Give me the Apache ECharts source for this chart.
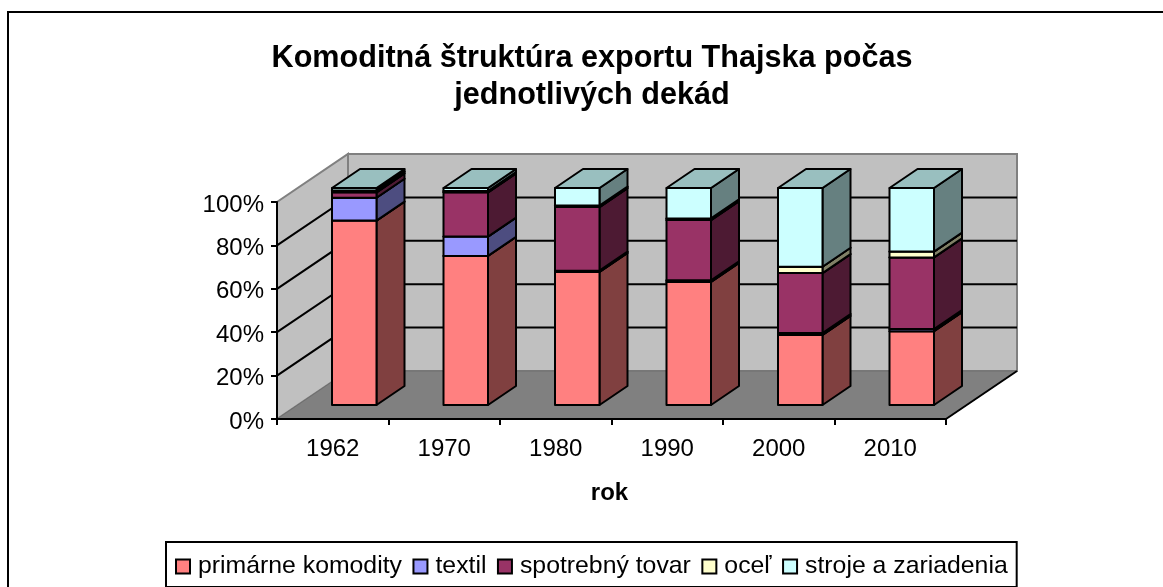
<!DOCTYPE html>
<html><head><meta charset="utf-8">
<style>html,body{margin:0;padding:0;background:#fff}#c{width:1163px;height:587px}</style>
<script src="https://cdn.jsdelivr.net/npm/echarts@6/dist/echarts.min.js"></script>
</head><body><div id="c"></div>
<script>
const years = ['1962','1970','1980','1990','2000','2010'];
const primarne = [85, 68.7, 61.3, 56.7, 32.3, 34];
const textil = [10.5, 8.9, 0.6, 0.8, 0.9, 1];
const spotrebny = [2.5, 20.4, 29.3, 27.7, 27.6, 33];
const ocel = [0.9, 0.6, 0.7, 0.8, 2.9, 2.7];
const stroje = [1.1, 1.4, 8.1, 14, 36.3, 29.3];
const wallTicks = [20, 40, 60, 80];

const names = ['primárne komodity','textil','spotrebný tovar','oceľ','stroje a zariadenia'];
const values = [primarne, textil, spotrebny, ocel, stroje];
const front = ['#FF8080','#9999FF','#993366','#FFFFCC','#CCFFFF'];
const side = ['#804040','#4D4D80','#4D1A33','#808066','#668080'];
const top_ = ['#BF6060','#7373BF','#732650','#BFBF99','#99BFBF'];
const D = {x:71, y:48};          // wall depth
const B0 = {x:21.5, y:14};       // bar front offset
const BD = {x:28, y:19};         // bar depth
const FONT = '"Liberation Sans", Arial, sans-serif';
const INK = {stroke:'#000', lineWidth:2, lineJoin:'round'};

function poly(points, fill, stroke){
  return {type:'polygon', shape:{points}, style:Object.assign({fill:fill||'none'}, stroke||{})};
}
function wallItem(params, api){
  const a = api.coord([0,0]), w = api.size([1,0])[0]*years.length;
  const xl = a[0]-w/(years.length*2), xr = xl+w;
  const y0 = a[1], y1 = api.coord([0,100])[1];
  const grey = {stroke:'#808080', lineWidth:2};
  const kids = [
    poly([[xl,y0],[xl,y1],[xl+D.x,y1-D.y],[xl+D.x,y0-D.y]],'#C0C0C0',grey),
    poly([[xl+D.x,y1-D.y],[xr+D.x,y1-D.y],[xr+D.x,y0-D.y],[xl+D.x,y0-D.y]],'#C0C0C0',grey)
  ];
  wallTicks.forEach(t=>{
    const y = api.coord([0,t])[1];
    kids.push({type:'polyline',shape:{points:[[xl,y],[xl+D.x,y-D.y],[xr+D.x,y-D.y]]},style:{fill:'none',stroke:'#000',lineWidth:2}});
  });
  kids.push(poly([[xl,y0],[xr,y0],[xr+D.x,y0-D.y],[xl+D.x,y0-D.y]],'#808080',{stroke:'#6e6e6e',lineWidth:1}));
  kids.push({type:'line',shape:{x1:xr,y1:y0,x2:xr+D.x,y2:y0-D.y},style:{stroke:'#000',lineWidth:2}});
  return {type:'group',children:kids};
}
function barItem(idx){
  return function(params, api){
    const cat = api.value(0), lo = api.value(1), hi = api.value(2);
    const c = api.coord([cat,lo]), t = api.coord([cat,hi]);
    const half = 22.25;
    const xl = c[0]-half+B0.x, xr = c[0]+half+B0.x;
    const yb = c[1]-B0.y, yt = t[1]-B0.y;
    return {type:'group',children:[
      poly([[xr,yb],[xr+BD.x,yb-BD.y],[xr+BD.x,yt-BD.y],[xr,yt]],side[idx],INK),
      poly([[xl,yb],[xr,yb],[xr,yt],[xl,yt]],front[idx],INK),
      poly([[xl,yt],[xr,yt],[xr+BD.x,yt-BD.y],[xl+BD.x,yt-BD.y]],top_[idx],INK)
    ]};
  };
}
const series = [{type:'custom',silent:true,z:1,data:[[0]],renderItem:wallItem,clip:false,encode:{x:0}}];
const running = years.map(()=>0);
names.forEach((n,i)=>{
  const d = years.map((y,k)=>{const lo=running[k];running[k]+=values[i][k];return [k,lo,running[k]];});
  series.push({type:'custom',name:n,silent:true,z:2+i,clip:false,data:d,renderItem:barItem(i),
    encode:{x:0,y:[1,2]},itemStyle:{color:front[i],borderColor:'#000',borderWidth:1.5}});
});
const chart = echarts.init(document.getElementById('c'),null,{renderer:'canvas'});
chart.setOption({
  animation:false,
  backgroundColor:'#fff',
  textStyle:{fontFamily:FONT,color:'#000'},
  graphic:[{type:'rect',z:0,silent:true,shape:{x:8,y:12,width:1300,height:700},style:{fill:'#fff',stroke:'#000',lineWidth:2}}],
  title:{text:'Komoditná štruktúra exportu Thajska počas\njednotlivých dekád',left:587,top:35,textAlign:'center',
    textStyle:{fontFamily:FONT,fontSize:30.6,fontWeight:'bold',color:'#000',lineHeight:37}},
  grid:{left:277,right:217,top:202,bottom:168,containLabel:false},
  xAxis:{type:'category',data:years,z:20,
    axisLine:{onZero:false,lineStyle:{color:'#000',width:2}},
    axisTick:{show:true,alignWithLabel:false,length:6,lineStyle:{color:'#000',width:2}},
    axisLabel:{fontFamily:FONT,fontSize:24,color:'#000',margin:18},
    name:'rok',nameLocation:'middle',nameGap:62,
    nameTextStyle:{fontFamily:FONT,fontSize:24,fontWeight:'bold',color:'#000',padding:[0,4,0,0]}},
  yAxis:{type:'value',min:0,max:100,interval:20,z:20,
    axisLine:{show:true,lineStyle:{color:'#000',width:2}},
    axisTick:{show:true,length:6,lineStyle:{color:'#000',width:2}},
    splitLine:{show:false},
    axisLabel:{fontFamily:FONT,fontSize:24,color:'#000',margin:13,verticalAlign:'top',lineHeight:6,formatter:'{value}%'}},
  legend:{data:names,left:166,top:542,padding:[12,9,8,9],itemWidth:14,itemHeight:14,itemGap:10.5,
    borderColor:'#000',borderWidth:2,backgroundColor:'#fff',icon:'rect',
    textStyle:{fontFamily:FONT,fontSize:24.8,color:'#000',padding:[0,0,0,3]}},
  series
});
</script></body></html>
